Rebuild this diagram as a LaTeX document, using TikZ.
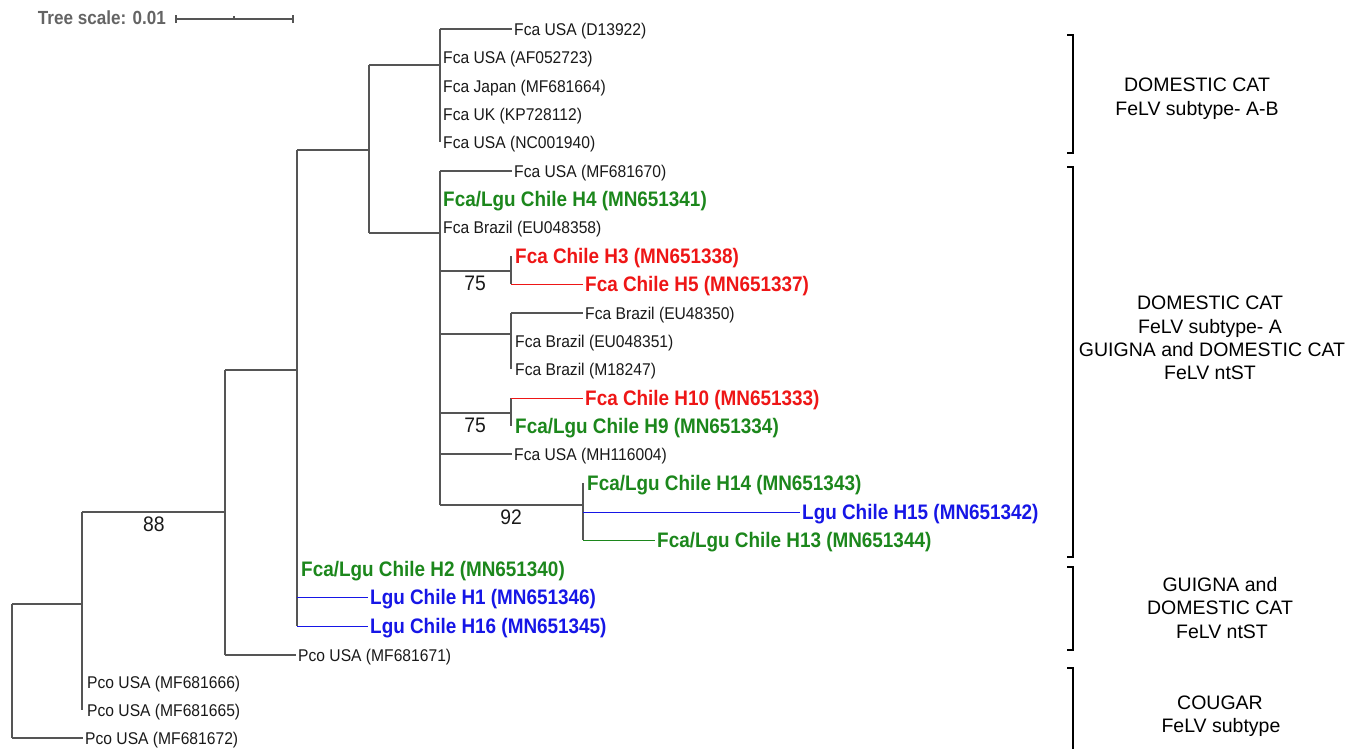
\documentclass[tikz,border=0pt]{standalone}
\usepackage{fontspec}
\setmainfont{Liberation Sans}
\newfontfamily\cond[FakeStretch=0.92]{Liberation Sans}
\newfontfamily\condb[FakeStretch=0.9]{Liberation Sans}
\definecolor{tgreen}{RGB}{28,135,28}
\definecolor{tred}{RGB}{238,22,22}
\definecolor{tblue}{RGB}{22,22,230}
\definecolor{tline}{RGB}{85,85,85}
\definecolor{ttext}{RGB}{25,25,25}
\definecolor{tgray}{RGB}{100,100,100}
\tikzset{
  leaf/.style={anchor=west, inner sep=2pt, text=ttext,
    font=\cond\fontsize{17}{20}\selectfont, text height=12.2pt, text depth=0pt},
  hl/.style={anchor=west, inner sep=2pt,
    font=\condb\bfseries\fontsize{21}{24}\selectfont, text height=15pt, text depth=0pt},
  grn/.style={hl, text=tgreen},
  rd/.style={hl, text=tred},
  blu/.style={hl, text=tblue},
  br/.style={draw=tline, line width=1.3pt},
  brr/.style={draw=tred, line width=1pt},
  brg/.style={draw=tgreen, line width=1pt},
  brb/.style={draw=tblue, line width=1pt},
  bsup/.style={inner sep=0pt, text=ttext, font=\cond\fontsize{21}{24}\selectfont,
    text height=15pt, text depth=0pt},
  grp/.style={inner sep=0pt, text=black, font=\fontsize{19.5}{23}\selectfont,
    text height=14pt, text depth=0pt},
  brk/.style={draw=black, line width=2.6pt},
  sbar/.style={draw=tline, line width=1.3pt}
}
\begin{document}
\begin{tikzpicture}[x=1pt,y=-1pt]
\useasboundingbox (0,0) rectangle (1357,748);
% scale bar
\node[anchor=west, inner sep=0pt, text=tgray, font=\condb\bfseries\fontsize{19}{22}\selectfont,
  text height=13.6pt, text depth=0pt] (scl) at (37.7,17.8) {Tree scale: 0.01};
\coordinate (sb0) at (176,19);
\coordinate (sb1) at (293,19);
\coordinate (sbm) at (234,19);
\draw[sbar] (sb0) -- (sb1);
\draw[sbar] ([yshift=-4pt]sb0) -- ([yshift=4pt]sb0);
\draw[sbar] ([yshift=-4pt]sb1) -- ([yshift=4pt]sb1);
\draw[sbar] (sbm) -- ([yshift=3.5pt]sbm);

% leaves
\node[leaf] (l1) at (512,29) {Fca USA (D13922)};
\node[leaf] (l2) at (441,57) {Fca USA (AF052723)};
\node[leaf] (l3) at (441,86) {Fca Japan (MF681664)};
\node[leaf] (l4) at (441,114) {Fca UK (KP728112)};
\node[leaf] (l5) at (441,142) {Fca USA (NC001940)};
\node[leaf] (l6) at (512,171) {Fca USA (MF681670)};
\node[grn] (l7) at (441,199) {Fca/Lgu Chile H4 (MN651341)};
\node[leaf] (l8) at (441,227) {Fca Brazil (EU048358)};
\node[rd] (l9) at (513,256) {Fca Chile H3 (MN651338)};
\node[rd] (l10) at (583,284) {Fca Chile H5 (MN651337)};
\node[leaf] (l11) at (583,313) {Fca Brazil (EU48350)};
\node[leaf] (l12) at (513,341) {Fca Brazil (EU048351)};
\node[leaf] (l13) at (513,369) {Fca Brazil (M18247)};
\node[rd] (l14) at (583,398) {Fca Chile H10 (MN651333)};
\node[grn] (l15) at (513,426) {Fca/Lgu Chile H9 (MN651334)};
\node[leaf] (l16) at (512,454) {Fca USA (MH116004)};
\node[grn] (l17) at (585,483) {Fca/Lgu Chile H14 (MN651343)};
\node[blu] (l18) at (800,512) {Lgu Chile H15 (MN651342)};
\node[grn] (l19) at (655,540) {Fca/Lgu Chile H13 (MN651344)};
\node[grn] (l20) at (299,569) {Fca/Lgu Chile H2 (MN651340)};
\node[blu] (l21) at (368,597) {Lgu Chile H1 (MN651346)};
\node[blu] (l22) at (368,626) {Lgu Chile H16 (MN651345)};
\node[leaf] (l23) at (296,655) {Pco USA (MF681671)};
\node[leaf] (l24) at (85,682) {Pco USA (MF681666)};
\node[leaf] (l25) at (85,710) {Pco USA (MF681665)};
\node[leaf] (l26) at (83,738) {Pco USA (MF681672)};

% internal nodes
\coordinate (nAB) at (440,65);
\coordinate (nA) at (440,233);
\coordinate (n75a) at (511,271);
\coordinate (nBr) at (511,334);
\coordinate (n75b) at (511,413);
\coordinate (n92) at (583,505);
\coordinate (nDom) at (369,150);
\coordinate (nChile) at (297,370);
\coordinate (nC) at (225,512);
\coordinate (nP) at (82,604);
\coordinate (root) at (12,604);

% clade A-B
\draw[br] (nAB |- l1.west) -- (nAB |- l5.west);
\draw[br] (nAB |- l1.west) -- (l1.west);
% clade A
\draw[br] (nA |- l6.west) -- (nA |- n92);
\draw[br] (nA |- l6.west) -- (l6.west);
\draw[br] (nA |- n75a) -- (n75a);
\draw[br] (nA |- nBr) -- (nBr);
\draw[br] (nA |- n75b) -- (n75b);
\draw[br] (nA |- l16.west) -- (l16.west);
\draw[br] (nA |- n92) -- (n92);
% 75a
\draw[br] (n75a |- l9.west) -- (n75a |- l10.west);
\draw[brr] (n75a |- l10.west) -- (l10.west);
% Brazil
\draw[br] (nBr |- l11.west) -- (nBr |- l13.west);
\draw[br] (nBr |- l11.west) -- (l11.west);
% 75b
\draw[br] (n75b |- l14.west) -- (n75b |- l15.west);
\draw[brr] (n75b |- l14.west) -- (l14.west);
% 92
\draw[br] (n92 |- l17.west) -- (n92 |- l19.west);
\draw[brb] (n92 |- l18.west) -- (l18.west);
\draw[brg] (n92 |- l19.west) -- (l19.west);
% domestic
\draw[br] (nDom |- nAB) -- (nDom |- nA);
\draw[br] (nDom |- nAB) -- (nAB);
\draw[br] (nDom |- nA) -- (nA);
% Chile
\draw[br] (nChile |- nDom) -- (nChile |- l22.west);
\draw[br] (nChile |- nDom) -- (nDom);
\draw[brb] (nChile |- l21.west) -- (l21.west);
\draw[brb] (nChile |- l22.west) -- (l22.west);
% nC
\draw[br] (nC |- nChile) -- (nC |- l23.west);
\draw[br] (nC |- nChile) -- (nChile);
\draw[br] (nC |- l23.west) -- (l23.west);
% nP
\draw[br] (nP |- nC) -- (nP |- l25.west);
\draw[br] (nP |- nC) -- (nC);
% root
\draw[br] (root) -- (root |- l26.west);
\draw[br] (root) -- (nP);
\draw[br] (root |- l26.west) -- (l26.west);

% support values
\node[bsup] (s88) at (153.8,523.7) {88};
\node[bsup] (s75a) at (475,282.5) {75};
\node[bsup] (s75b) at (475,424.7) {75};
\node[bsup] (s92) at (511,516.7) {92};

% brackets
\draw[brk] (1067,35) -- (1073,35) -- (1073,153) -- (1067,153);
\draw[brk] (1067,167) -- (1073,167) -- (1073,557) -- (1067,557);
\draw[brk] (1067,567) -- (1073,567) -- (1073,650) -- (1067,650);
\draw[brk] (1067,668) -- (1073,668) -- (1073,760);

% group labels
\node[grp] (g1a) at (1197,84.5) {DOMESTIC CAT};
\node[grp] (g1b) at (1197,108) {FeLV subtype- A-B};
\node[grp] (g2a) at (1210,302) {DOMESTIC CAT};
\node[grp] (g2b) at (1210,326) {FeLV subtype- A};
\node[grp] (g2c) at (1212,349) {GUIGNA and DOMESTIC CAT};
\node[grp] (g2d) at (1210,372) {FeLV ntST};
\node[grp] (g3a) at (1220,584) {GUIGNA and};
\node[grp] (g3b) at (1220,607.5) {DOMESTIC CAT};
\node[grp] (g3c) at (1222,631.5) {FeLV ntST};
\node[grp] (g4a) at (1220,702) {COUGAR};
\node[grp] (g4b) at (1221,725.5) {FeLV subtype};
\end{tikzpicture}
\end{document}
